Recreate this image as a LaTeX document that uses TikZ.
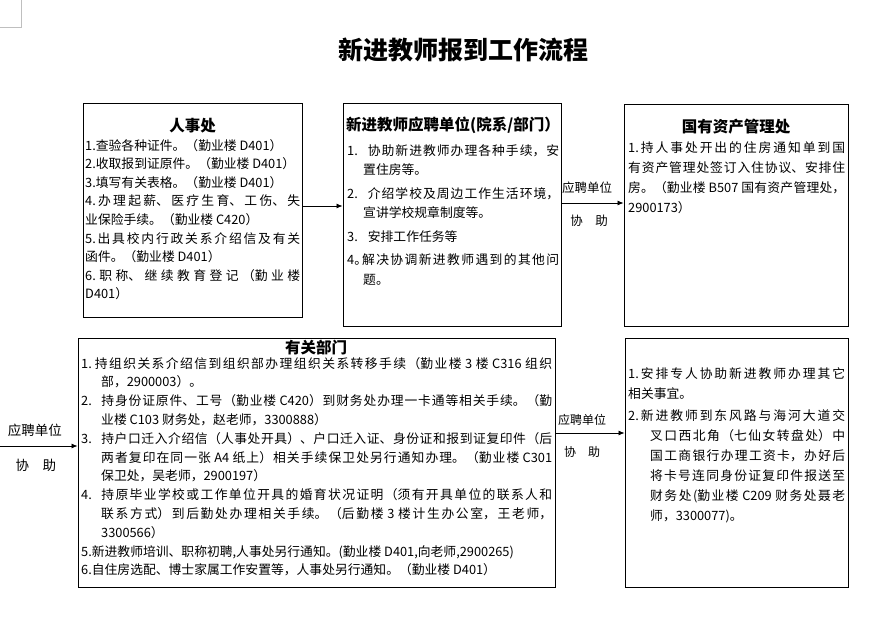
\documentclass[tikz,border=0pt]{standalone}
\usepackage{fontspec}
\setmainfont{Noto Sans CJK SC}
\usetikzlibrary{arrows.meta}
\XeTeXlinebreaklocale "zh"
\XeTeXlinebreakskip=0pt plus 3pt
\newcommand{\hitem}[2]{\hangindent=#1\hangafter=1 #2\par}
\tikzset{
  box/.style={draw=black, line width=0.9pt, rectangle, inner sep=0pt},
  head/.style={font=\fontsize{15.5}{18}\selectfont\bfseries, inner sep=0pt},
  body/.style={anchor=base west, inner sep=0pt, align=justify},
  lab/.style={font=\fontsize{12.5}{14}\selectfont, inner sep=0pt},
  arr/.style={-{Latex[length=6pt,width=5pt]}, line width=0.8pt},
}
\begin{document}
\begin{tikzpicture}[x=1pt,y=-1pt]
\useasboundingbox (0,0) rectangle (889,621);
% page corner mark
\draw[gray!50, line width=0.6pt] (0,27) -- (21,27) -- (21,0);

\node[font=\fontsize{25}{28}\selectfont\bfseries, inner sep=0pt] (title) at (463,50) {新进教师报到工作流程};

% boxes
\node[box, minimum width=219pt, minimum height=214pt] (b1) at (192.5,210) {};
\node[box, minimum width=218pt, minimum height=223pt] (b2) at (452,214.5) {};
\node[box, minimum width=224pt, minimum height=222pt] (b3) at (736,215) {};
\node[box, minimum width=477pt, minimum height=249pt] (b4) at (316.5,462.5) {};
\node[box, minimum width=223pt, minimum height=249pt] (b5) at (736.5,462.5) {};

% headings
\node[head] (h1) at (192.5,126) {人事处};
\node[head] (h2) at (453,125) {新进教师应聘单位(院系/部门）};
\node[head] (h3) at (736,127) {国有资产管理处};
\node[head] (h4) at (316,348) {有关部门};

% box 1 text
\node[body, text width=215pt, font=\fontsize{12.8}{18.6}\selectfont] (t1) at (85,150) {%
\parskip=0pt
\hitem{0pt}{1.查验各种证件。（勤业楼 D401）}
\hitem{0pt}{2.收取报到证原件。（勤业楼 D401）}
\hitem{0pt}{3.填写有关表格。（勤业楼 D401）}
\hitem{0pt}{4.办理起薪、医疗生育、工伤、失\linebreak 业保险手续。（勤业楼 C420）}
\hitem{0pt}{5.出具校内行政关系介绍信及有关\linebreak 函件。（勤业楼 D401）}
\hitem{0pt}{6.职称、继续教育登记（勤业楼\linebreak D401）}};

% box 2 text
\node[body, text width=212pt, font=\fontsize{12.8}{19.5}\selectfont] (t2) at (347,155) {%
\parskip=4pt
\hitem{16pt}{1.\hspace{10pt}协助新进教师办理各种手续，安\linebreak 置住房等。}
\hitem{16pt}{2.\hspace{10pt}介绍学校及周边工作生活环境，\linebreak 宣讲学校规章制度等。}
\hitem{16pt}{3.\hspace{10pt}安排工作任务等}
\hitem{16pt}{4。\kern-5pt 解决协调新进教师遇到的其他问\linebreak 题。}};

% box 3 text
\node[body, text width=217pt, font=\fontsize{12.8}{20}\selectfont] (t3) at (628,152) {%
\parskip=0pt
\hitem{0pt}{1.持人事处开出的住房通知单到国\linebreak 有资产管理处签订入住协议、安排住\linebreak 房。（勤业楼 B507 国有资产管理处，\linebreak 2900173）}};

% box 4 text
\node[body, text width=471pt, font=\fontsize{12.8}{18.8}\selectfont] (t4) at (81,368) {%
\parskip=0pt
\hitem{20pt}{1.\kern3pt 持组织关系介绍信到组织部办理组织关系转移手续（勤业楼 3 楼 C316 组织\linebreak 部，2900003）。}
\hitem{20pt}{2.\hspace{9.5pt}持身份证原件、工号（勤业楼 C420）到财务处办理一卡通等相关手续。（勤\linebreak 业楼 C103 财务处，赵老师，3300888）}
\hitem{20pt}{3.\hspace{9.5pt}持户口迁入介绍信（人事处开具）、户口迁入证、身份证和报到证复印件（后\linebreak 两者复印在同一张 A4 纸上）相关手续保卫处另行通知办理。（勤业楼 C301\linebreak 保卫处，吴老师，2900197）}
\hitem{20pt}{4.\hspace{9.5pt}持原毕业学校或工作单位开具的婚育状况证明（须有开具单位的联系人和\linebreak 联系方式）到后勤处办理相关手续。（后勤楼 3 楼计生办公室，王老师，\linebreak 3300566）}
\hitem{0pt}{5.新进教师培训、职称初聘,人事处另行通知。(勤业楼 D401,向老师,2900265)}
\hitem{0pt}{6.自住房选配、博士家属工作安置等，人事处另行通知。（勤业楼 D401）}};

% box 5 text
\node[body, text width=217pt, font=\fontsize{12.8}{20}\selectfont] (t5) at (628,378) {%
\parskip=2pt
\hitem{0pt}{1.安排专人协助新进教师办理其它\linebreak 相关事宜。}
\hitem{22pt}{2.新进教师到东风路与海河大道交\linebreak 叉口西北角（七仙女转盘处）中\linebreak 国工商银行办理工资卡，办好后\linebreak 将卡号连同身份证复印件报送至\linebreak 财务处(勤业楼 C209 财务处聂老\linebreak 师，3300077)。}};

% connectors
\coordinate (y1) at (0,206);
\coordinate (y2) at (0,203);
\coordinate (lstart) at (0,446);
\coordinate (y3) at (0,433);
\draw[arr] (b1.east |- y1) -- (b2.west |- y1);
\draw[arr] (b2.east |- y2) -- (b3.west |- y2);
\draw[arr] (lstart) -- (b4.west |- lstart);
\draw[arr] (b4.east |- y3) -- (b5.west |- y3);

% connector labels
\node[lab] (l1a) at (587,188) {应聘单位};
\node[lab] (l1b) at (589,221) {协\hspace{1em}助};
\node[lab, font=\fontsize{13.5}{15}\selectfont] (l2a) at (35,430) {应聘单位};
\node[lab, font=\fontsize{13.5}{15}\selectfont] (l2b) at (36,465) {协\hspace{1em}助};
\node[lab, font=\fontsize{12}{14}\selectfont] (l3a) at (582,420) {应聘单位};
\node[lab, font=\fontsize{12}{14}\selectfont] (l3b) at (582,452) {协\hspace{1em}助};
\end{tikzpicture}
\end{document}
